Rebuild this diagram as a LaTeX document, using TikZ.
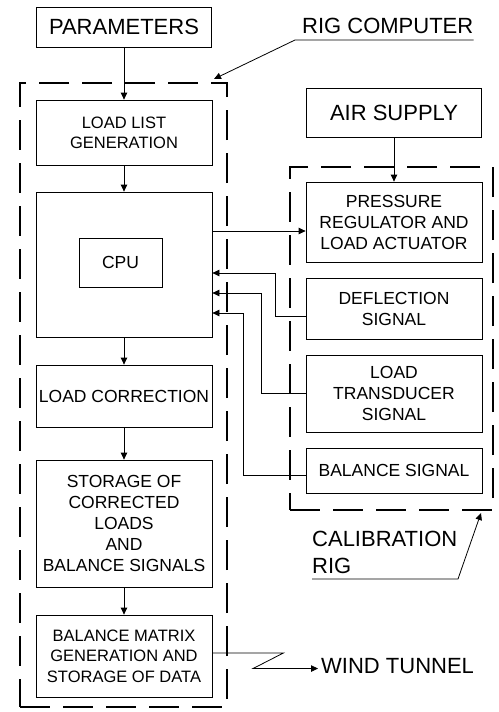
\documentclass[tikz,border=0pt]{standalone}
\usepackage{fontspec}
\setmainfont{Liberation Sans}
\usetikzlibrary{arrows.meta}
\begin{document}
\begin{tikzpicture}[x=1pt,y=-1pt,
  box/.style={draw, line width=0.8pt, minimum width=176pt, align=center, inner sep=1pt,
    font=\fontsize{17.5}{21}\selectfont},
  bigbox/.style={draw, line width=0.9pt, minimum width=175pt, align=center, inner sep=1pt,
    font=\fontsize{22}{26}\selectfont},
  dashbox/.style={draw, line width=2pt, dash pattern=on 30pt off 13pt},
  lbl/.style={inner sep=0pt, font=\fontsize{22}{27}\selectfont},
  arr/.style={line width=0.8pt, -{Triangle[length=7pt,width=6.5pt]}},
  lnk/.style={line width=0.8pt}]
\useasboundingbox (0,0) rectangle (498,712);
\fill[white] (0,0) rectangle (498,712);

% left column
\node[bigbox, minimum height=40pt] (params) at (124,27) {PARAMETERS};
\node[dashbox, minimum width=207pt, minimum height=624pt] (rigbox) at (123.5,395) {};
\node[box, minimum height=65pt, font=\fontsize{16.5}{20}\selectfont] (loadlist) at (124,132.5) {LOAD LIST\\GENERATION};
\node[box, minimum height=145pt] (cpubig) at (124,264.5) {};
\node[box, minimum width=83pt, minimum height=49pt] (cpu) at (120.5,262.5) {CPU};
\node[box, minimum height=62pt] (loadcorr) at (124,396) {LOAD CORRECTION};
\node[box, minimum height=127pt] (storage) at (124,523.5) {STORAGE OF\\CORRECTED\\LOADS\\AND\\BALANCE SIGNALS};
\node[box, minimum height=82pt, font=\fontsize{16.5}{20.5}\selectfont] (matrix) at (124,656) {BALANCE MATRIX\\GENERATION AND\\STORAGE OF DATA};

\draw[arr] (params) -- (loadlist);
\draw[arr] (loadlist) -- (cpubig);
\draw[arr] (cpubig) -- (loadcorr);
\draw[arr] (loadcorr) -- (storage);
\draw[arr] (storage) -- (matrix);

% right column
\node[bigbox, minimum height=49pt] (air) at (394,112.5) {AIR SUPPLY};
\node[dashbox, minimum width=203pt, minimum height=343pt] (calbox) at (391.5,338.5) {};
\node[box, minimum height=80pt] (press) at (394,222) {PRESSURE\\REGULATOR AND\\LOAD ACTUATOR};
\node[box, minimum height=61pt] (defl) at (394,308.5) {DEFLECTION\\SIGNAL};
\node[box, minimum height=77pt] (transd) at (394,393.5) {LOAD\\TRANSDUCER\\SIGNAL};
\node[box, minimum height=45pt] (bal) at (394,470.5) {BALANCE SIGNAL};

\draw[arr] (air) -- (press);

% links between columns
\coordinate (pin) at ([yshift=-9pt]press.west);
\draw[arr] (cpubig.east |- pin) -- (pin);
\draw[arr] ([yshift=-7.5pt]defl.west) -- ++(-30,0) |- ([yshift=-8.5pt]cpubig.east);
\draw[arr] (transd.west) -- ++(-44,0) |- ([yshift=-28.5pt]cpubig.east);
\draw[arr] ([yshift=-4.5pt]bal.west) -- ++(-62,0) |- ([yshift=-48.5pt]cpubig.east);

% labels
\node[lbl, anchor=base west] (rc) at (302,33) {RIG COMPUTER};
\draw[arr] ([yshift=-7pt]rc.base east) -- ([xshift=-7pt,yshift=-7pt]rc.base west)
  -- ([xshift=-14pt,yshift=3pt]rigbox.north east);

\node[lbl, align=left, anchor=north west] (cr) at (312,531) {CALIBRATION\\RIG};
\draw[arr] ([yshift=-5pt]cr.south west) -- ++(146,0) -- ([xshift=-13pt,yshift=-2pt]calbox.south east);

% wind tunnel
\node[lbl, anchor=base west] (wt) at (321,673) {WIND TUNNEL};
\coordinate (wtin) at ([xshift=-3pt,yshift=-3pt]wt.west);
\draw[arr] ([yshift=3pt]matrix.east) -- ++(71,0) -- ([xshift=-65pt]wtin) -- (wtin);
\end{tikzpicture}
\end{document}
